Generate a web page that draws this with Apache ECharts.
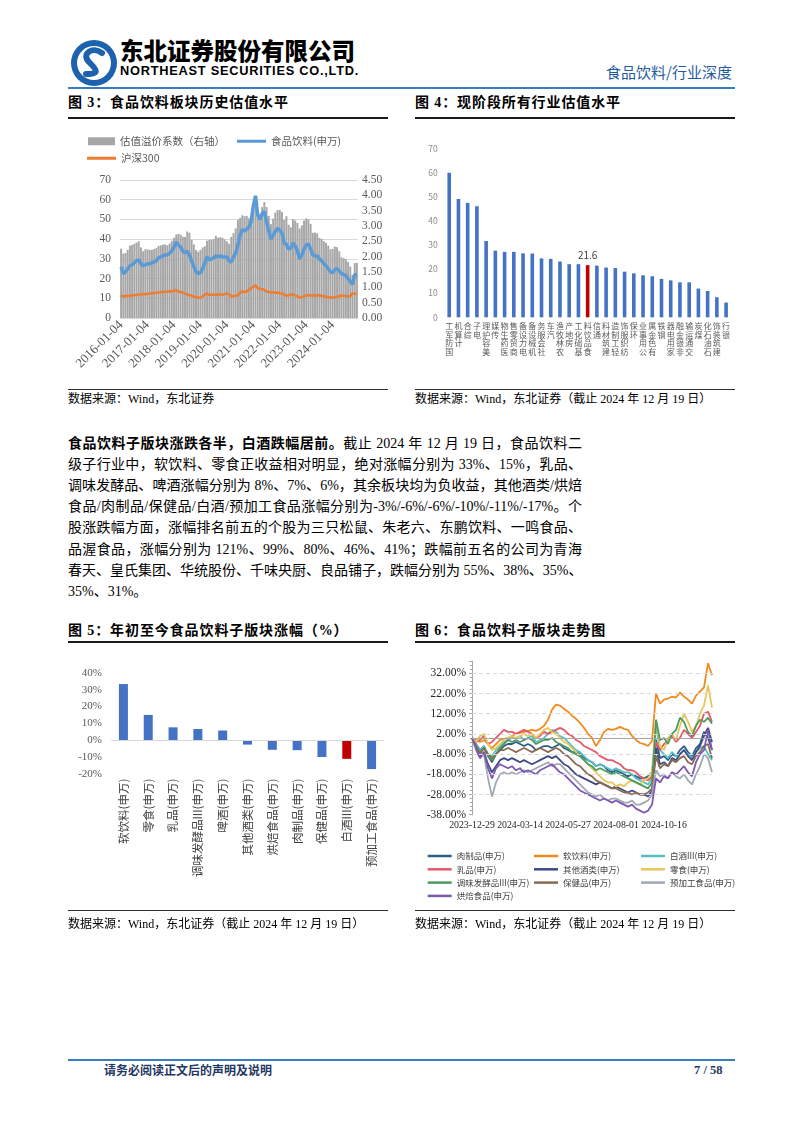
<!DOCTYPE html>
<html><head><meta charset="utf-8">
<script src="https://cdn.jsdelivr.net/npm/echarts@6/dist/echarts.min.js"></script>
<style>
body{margin:0;background:#fff;}
#page{position:relative;width:802px;height:1133px;overflow:hidden;background:#fff;color:#000;font-family:"Liberation Serif","Noto Sans CJK SC",serif;}
.a{position:absolute;}
.title{font-family:"Liberation Serif","Noto Sans CJK SC",serif;font-weight:bold;font-size:14px;line-height:20px;white-space:nowrap;letter-spacing:0.9px;}
.rule{height:1.5px;background:#1a1a1a;}
.thin{height:1px;background:#333;}
.src{font-size:12px;line-height:16px;white-space:nowrap;}
.p{font-size:14px;line-height:21.2px;height:21.2px;width:514px;text-align:justify;text-align-last:justify;white-space:nowrap;overflow:visible;}
.p.last{text-align-last:left;}
</style></head>
<body><div id="page">
<!-- header -->
<svg class="a" style="left:70px;top:39px" width="48" height="48" viewBox="0 0 48 48">
<circle cx="24" cy="24" r="23" fill="#1d62ae"/><circle cx="24" cy="24" r="17" fill="#fff"/>
<path d="M32 14 C 22 7, 11 15, 19 23 S 30 35, 16 35" stroke="#1d62ae" stroke-width="6" fill="none" stroke-linecap="round"/>
</svg>
<div class="a" style="left:120px;top:35px;font-family:'Noto Sans CJK SC',sans-serif;font-weight:900;font-size:23.5px;line-height:30px;white-space:nowrap;">东北证券股份有限公司</div>
<div class="a" style="left:120px;top:63px;font-family:'Liberation Sans','DejaVu Sans',sans-serif;font-weight:bold;font-size:12.8px;line-height:16px;white-space:nowrap;letter-spacing:0.75px;">NORTHEAST SECURITIES CO.,LTD.</div>
<div class="a" style="left:606px;top:62px;font-family:'Noto Sans CJK SC',sans-serif;font-size:15px;line-height:20px;color:#1f5c9e;white-space:nowrap;">食品饮料/行业深度</div>
<div class="a" style="left:68px;top:87px;width:667px;height:2px;background:#3a7cc0;"></div>

<!-- fig 3/4 titles -->
<div class="a title" style="left:68px;top:93px;">图 3：食品饮料板块历史估值水平</div>
<div class="a rule" style="left:68px;top:117px;width:320px;"></div>
<div class="a title" style="left:415px;top:93px;">图 4：现阶段所有行业估值水平</div>
<div class="a rule" style="left:415px;top:117px;width:320px;"></div>

<div id="c3" class="a" style="left:68px;top:122px;width:322px;height:265px;"></div>
<div id="c4" class="a" style="left:415px;top:122px;width:318px;height:265px;overflow:hidden;"></div>

<div class="a thin" style="left:68px;top:389px;width:320px;"></div>
<div class="a thin" style="left:415px;top:389px;width:320px;"></div>
<div class="a src" style="left:68px;top:391px;">数据来源：Wind，东北证券</div>
<div class="a src" style="left:415px;top:391px;">数据来源：Wind，东北证券（截止 2024 年 12 月 19 日）</div>

<!-- paragraph -->
<div class="a" style="left:68px;top:432.7px;">
<div class="p"><b>食品饮料子版块涨跌各半，白酒跌幅居前。</b>截止 2024 年 12 月 19 日，食品饮料二</div>
<div class="p">级子行业中，软饮料、零食正收益相对明显，绝对涨幅分别为 33%、15%，乳品、</div>
<div class="p">调味发酵品、啤酒涨幅分别为 8%、7%、6%，其余板块均为负收益，其他酒类/烘焙</div>
<div class="p">食品/肉制品/保健品/白酒/预加工食品涨幅分别为-3%/-6%/-6%/-10%/-11%/-17%。个</div>
<div class="p">股涨跌幅方面，涨幅排名前五的个股为三只松鼠、朱老六、东鹏饮料、一鸣食品、</div>
<div class="p">品渥食品，涨幅分别为 121%、99%、80%、46%、41%；跌幅前五名的公司为青海</div>
<div class="p">春天、皇氏集团、华统股份、千味央厨、良品铺子，跌幅分别为 55%、38%、35%、</div>
<div class="p last">35%、31%。</div>
</div>

<!-- fig 5/6 titles -->
<div class="a title" style="left:68px;top:621px;">图 5：年初至今食品饮料子版块涨幅（%）</div>
<div class="a rule" style="left:68px;top:641px;width:320px;"></div>
<div class="a title" style="left:415px;top:621px;">图 6：食品饮料子版块走势图</div>
<div class="a rule" style="left:415px;top:641px;width:320px;"></div>

<div id="c5" class="a" style="left:68px;top:645px;width:322px;height:235px;overflow:hidden;"></div>
<div id="c6" class="a" style="left:415px;top:645px;width:322px;height:285px;"></div>

<div class="a thin" style="left:68px;top:910px;width:320px;"></div>
<div class="a thin" style="left:415px;top:910px;width:320px;"></div>
<div class="a src" style="left:68px;top:916px;">数据来源：Wind，东北证券（截止 2024 年 12 月 19 日）</div>
<div class="a src" style="left:415px;top:916px;">数据来源：Wind，东北证券（截止 2024 年 12 月 19 日）</div>

<!-- footer -->
<div class="a" style="left:68px;top:1059px;width:667px;height:1.5px;background:#3a7cc0;"></div>
<div class="a" style="left:104px;top:1062px;font-family:'Noto Sans CJK SC',sans-serif;font-weight:bold;font-size:12px;line-height:16px;color:#1f3864;white-space:nowrap;">请务必阅读正文后的声明及说明</div>
<div class="a" style="left:694px;top:1062px;font-family:'Liberation Serif',serif;font-weight:bold;font-size:12.5px;line-height:16px;color:#1f3864;white-space:nowrap;">7 / 58</div>
</div>

<script>
// ---------- Fig 3 data ----------
const months3 = [
"2016-01-04","2016-02-04","2016-03-04","2016-04-04","2016-05-04","2016-06-04","2016-07-04","2016-08-04","2016-09-04","2016-10-04","2016-11-04","2016-12-04",
"2017-01-04","2017-02-04","2017-03-04","2017-04-04","2017-05-04","2017-06-04","2017-07-04","2017-08-04","2017-09-04","2017-10-04","2017-11-04","2017-12-04",
"2018-01-04","2018-02-04","2018-03-04","2018-04-04","2018-05-04","2018-06-04","2018-07-04","2018-08-04","2018-09-04","2018-10-04","2018-11-04","2018-12-04",
"2019-01-04","2019-02-04","2019-03-04","2019-04-04","2019-05-04","2019-06-04","2019-07-04","2019-08-04","2019-09-04","2019-10-04","2019-11-04","2019-12-04",
"2020-01-04","2020-02-04","2020-03-04","2020-04-04","2020-05-04","2020-06-04","2020-07-04","2020-08-04","2020-09-04","2020-10-04","2020-11-04","2020-12-04",
"2021-01-04","2021-02-04","2021-03-04","2021-04-04","2021-05-04","2021-06-04","2021-07-04","2021-08-04","2021-09-04","2021-10-04","2021-11-04","2021-12-04",
"2022-01-04","2022-02-04","2022-03-04","2022-04-04","2022-05-04","2022-06-04","2022-07-04","2022-08-04","2022-09-04","2022-10-04","2022-11-04","2022-12-04",
"2023-01-04","2023-02-04","2023-03-04","2023-04-04","2023-05-04","2023-06-04","2023-07-04","2023-08-04","2023-09-04","2023-10-04","2023-11-04","2023-12-04",
"2024-01-04","2024-02-04","2024-03-04","2024-04-04","2024-05-04","2024-06-04","2024-07-04","2024-08-04","2024-09-04","2024-10-04","2024-11-04","2024-12-04"];
const foodPE = [
26,22.5,23.5,25,26.5,27,28,29,29.5,27.5,26.5,27,
27.5,27.5,28,28.5,29,30.5,31,31.5,32,32,33,34,
36,38.5,37,36,34,33,34,32,29,26,23.5,22.5,
23,25,28,31,29.5,30,30.5,31.5,31,31.5,31,31,
31,29,28.5,31,33,37,42,45,44,45,46,49,
57,62,52,50,53,54,49,44,40,42,44,45.5,
44.5,43,38,37.5,35,35.5,38,36.5,34,30,32,35,
37,37.5,35,32,31.5,31.5,30,29,27.5,26.5,25,23.5,
23,24.5,25,24,22.5,22,21.5,20,18.5,17,22,22];
const hs300PE = [
11.5,10.8,11.2,11.3,11.2,11.4,11.6,11.8,11.7,12.0,12.2,12.1,
12.3,12.4,12.6,12.7,12.8,13.0,13.1,13.2,13.3,13.5,13.6,13.4,
13.8,14.2,13.5,13.2,12.9,12.5,12.0,11.5,11.4,10.8,10.6,10.4,
10.3,10.9,12.0,12.3,11.6,11.8,11.9,11.7,11.9,12.0,11.8,12.1,
12.4,12.0,10.8,11.2,11.3,11.5,12.9,13.4,13.2,13.5,14.2,15.2,
15.8,16.6,15.1,14.8,14.6,14.3,13.5,13.2,13.1,13.0,12.8,12.9,
12.6,12.4,11.9,11.3,11.5,12.0,11.8,11.5,11.0,10.3,10.6,11.0,
11.4,11.6,11.4,11.5,11.3,11.4,11.5,11.2,11.0,10.8,10.6,10.5,
10.2,10.5,10.8,11.0,11.4,11.3,11.2,10.9,11.0,12.5,12.3,12.2];
const premium = [
2.26,2.10,2.12,2.22,2.36,2.38,2.42,2.46,2.50,2.30,2.18,2.24,
2.24,2.22,2.22,2.25,2.28,2.35,2.37,2.39,2.40,2.37,2.43,2.52,
2.62,2.72,2.74,2.72,2.65,2.64,2.82,2.78,2.55,2.40,2.22,2.16,
2.22,2.30,2.34,2.52,2.54,2.55,2.57,2.68,2.62,2.63,2.62,2.56,
2.50,2.42,2.64,2.77,2.92,3.20,3.26,3.35,3.32,3.33,3.25,3.22,
3.60,3.74,3.44,3.38,3.62,3.78,3.62,3.33,3.06,3.24,3.44,3.52,
3.52,3.46,3.20,3.32,3.04,2.96,3.22,3.18,3.10,2.92,3.02,3.18,
3.25,3.22,3.07,2.78,2.79,2.76,2.61,2.58,2.50,2.45,2.36,2.24,
2.25,2.33,2.31,2.18,1.98,1.95,1.92,1.83,1.68,1.40,1.79,1.80];

// ---------- Fig 4 data ----------
const industries = ["国防军工","计算机","综合","电子","美容护理","传媒","医药生物","商贸零售","电力设备","机械设备","社会服务","汽车","农林牧渔","房地产","基础化工","食品饮料","通信","建筑材料","轻工制造","纺织服饰","环保","公用事业","有色金属","钢铁","家用电器","非银金融","交通运输","煤炭","石油石化","建筑装饰","银行"];
const industryPE = [59.9,49.0,47.4,46.0,31.6,27.6,27.1,27.1,26.5,26.4,24.4,24.2,23.1,22.0,22.0,21.6,21.4,20.6,20.4,18.9,18.2,17.4,17.0,15.9,15.3,14.5,14.5,11.9,10.9,8.3,6.1];
const highlightIndustry = "食品饮料";

// ---------- Fig 5 data ----------
const subSectors = ["软饮料(申万)","零食(申万)","乳品(申万)","调味发酵品III(申万)","啤酒(申万)","其他酒类(申万)","烘焙食品(申万)","肉制品(申万)","保健品(申万)","白酒III(申万)","预加工食品(申万)"];
const ytdReturn = [33.4,15.0,7.6,6.6,5.7,-2.7,-5.8,-6.0,-10.1,-11.2,-17.3];
const highlightSector = "白酒III(申万)";

// ---------- Fig 6 data ----------
const dates6 = ["2023-12-29","2024-01-05","2024-01-11","2024-01-17","2024-01-23","2024-01-29","2024-02-02","2024-02-08","2024-02-23","2024-02-29","2024-03-04","2024-03-08",
"2024-03-14","2024-03-20","2024-03-26","2024-04-01","2024-04-08","2024-04-12","2024-04-18","2024-04-24","2024-04-30","2024-05-10","2024-05-16","2024-05-22",
"2024-05-27","2024-05-31","2024-06-06","2024-06-13","2024-06-19","2024-06-25","2024-07-01","2024-07-05","2024-07-11","2024-07-17","2024-07-23","2024-07-29",
"2024-08-01","2024-08-07","2024-08-13","2024-08-19","2024-08-23","2024-08-29","2024-09-04","2024-09-10","2024-09-19","2024-09-25","2024-09-30","2024-10-11",
"2024-10-16","2024-10-22","2024-10-28","2024-11-01","2024-11-07","2024-11-13","2024-11-19","2024-11-25","2024-11-29","2024-12-05","2024-12-11","2024-12-16","2024-12-19"];
const dateLabels6 = ["2023-12-29","2024-03-14","2024-05-27","2024-08-01","2024-10-16"];
const meatS = [0,-3,-6,-4,-9,-12,-8,-6,-4,-3,-3,-2,-3,-4,-3,-4,-6,-5,-4,-4,-5,-4,-3,-5,-6,-7,-7,-8,-10,-11,-12,-14,-13,-14,-16,-17,-16,-17,-18,-19,-18,-19,-20,-20,-19,-17,-1,-10,-9,-11,-8,-9,-6,-4,-7,-9,-5,-3,3,0,-6];
const softDrinkS = [0,-1,-2,-1,-3,-5,-3,-1,-0.5,0,1,2,2.5,3,3.5,4,3.5,4.5,6,9,14,16.5,16,14.5,13,11,9.5,7.5,5,2,0,-4,-1,3,4.5,4,4.5,5.5,4.5,4,1,-1,-2.5,-3,-4,-1.5,22,17,19,19.5,20.5,20,22.5,20.5,19,17,21,23,25,37,31];
const baijiuS = [0,-3,-6,-4,-8,-9,-6,-4,-2,-1,0,0,1,-1,0,1,-2,-1,0,2,4,3,1,0,-2,-4,-6,-7,-9,-11,-12,-14,-13,-14,-15,-16,-15,-16,-17,-17,-18,-20,-21,-22,-23,-20,6,-6,-8,-10,-7,-9,-8,-6,-8,-10,-7,-5,-4,-8,-11];
const dairyS = [0,-2,-1,1,-3,-2,0,2,4,3,3,2,3,4,3,2,0,1,3,2,3,4,5,4,2,1,-1,-2,-4,-5,-6,-7,-9,-10,-11,-11,-12,-13,-15,-16,-16,-17,-19,-20,-21,-19,-2,-6,-3,-1,1,-2,0,4,2,0,3,6,12,13,8];
const otherLiquorS = [0,-5,-9,-7,-13,-17,-14,-11,-10,-11,-10,-11,-12,-11,-12,-13,-12,-11,-10,-9,-10,-9,-11,-13,-14,-16,-18,-19,-20,-21,-22,-23,-22,-23,-24,-25,-24,-25,-26,-27,-26,-27,-28,-28,-29,-26,-5,-13,-12,-14,-10,-11,-8,-6,-9,-11,-7,-4,1,5,-2];
const snackS = [0,-2,1,2,-3,-6,-5,-3,-1,0,1,0,1,2,1,2,0,2,4,5,3,2,0,-2,-3,-5,-7,-9,-11,-13,-15,-17,-19,-21,-22,-22,-24,-23,-24,-22,-21,-22,-23,-21,-20,-17,9,-4,-6,0,2,-1,6,12,8,3,6,12,16,26,15];
const seasoningS = [0,-4,-7,-5,-9,-11,-8,-5,-3,-1,-2,-1,-2,-1,0,-1,-3,-2,-1,-1,0,-2,-3,-4,-5,-7,-8,-9,-11,-13,-14,-16,-15,-16,-17,-18,-17,-18,-19,-20,-21,-22,-23,-24,-25,-22,9,-1,0,-3,2,4,10,8,3,1,6,9,8,10,7];
const healthS = [0,-4,-8,-5,-8,-10,-8,-6,-6,-5,-6,-7,-6,-5,-6,-7,-6,-5,-6,-7,-6,-5,-6,-8,-9,-11,-13,-14,-16,-18,-19,-21,-22,-23,-24,-25,-25,-26,-27,-27,-28,-27,-28,-28,-27,-25,-9,-15,-13,-14,-11,-12,-10,-9,-12,-13,-9,-7,-4,-3,-10];
const preparedS = [0,-6,-10,-8,-20,-29,-22,-18,-17,-18,-17,-18,-17,-16,-17,-16,-15,-14,-13,-12,-14,-13,-13,-15,-17,-19,-21,-23,-25,-27,-28,-29,-28,-30,-31,-30,-30,-31,-32,-32,-31,-33,-33,-32,-31,-28,-16,-19,-18,-20,-17,-19,-20,-18,-21,-23,-18,-14,-8,-10,-17];
const bakeryS = [0,-5,-10,-7,-15,-20,-15,-13,-14,-15,-14,-16,-15,-17,-16,-17,-18,-16,-15,-14,-13,-15,-17,-18,-20,-22,-24,-26,-27,-28,-29,-30,-31,-30,-31,-32,-31,-32,-33,-34,-33,-35,-36,-37,-36,-33,-20,-22,-19,-20,-17,-18,-16,-14,-17,-19,-12,-8,-6,4,-6];
const gridTicks6 = [32,22,12,2,-8,-18,-28];

// ---------- fonts ----------
const SERIF = '"Liberation Serif","Times New Roman","Noto Sans CJK SC",serif';
const SANS = '"Noto Sans CJK SC","Liberation Sans",sans-serif';

// ---------- Fig 3 ----------
const c3 = echarts.init(document.getElementById('c3'), null, {renderer:'canvas'});
const legTxt3 = {fontSize:10.5, color:'#595959', fontFamily:SANS};
c3.setOption({
  animation:false,
  legend:[
    {data:['估值溢价系数（右轴）'], left:20, top:14, padding:0, icon:'rect', itemWidth:27, itemHeight:8, textStyle:legTxt3},
    {data:['食品饮料(申万)'], left:169, top:14, padding:0, icon:'rect', itemWidth:29, itemHeight:3, textStyle:legTxt3},
    {data:['沪深300'], left:19, top:31, padding:0, icon:'rect', itemWidth:29, itemHeight:3, textStyle:legTxt3}
  ],
  grid:{left:52, top:58, width:238, height:138},
  xAxis:{type:'category', data:months3, boundaryGap:true,
    axisLine:{show:true, lineStyle:{color:'#D9D9D9'}}, axisTick:{show:false},
    axisLabel:{interval:11, rotate:45, fontFamily:SERIF, fontSize:13, color:'#595959', margin:5}},
  yAxis:[
    {type:'value', min:0, max:70, interval:10, axisLine:{show:false}, axisTick:{show:false},
     axisLabel:{fontFamily:SERIF, fontSize:11.5, color:'#595959', margin:9},
     splitLine:{lineStyle:{color:'#D9D9D9', width:1}}},
    {type:'value', min:0, max:4.5, interval:0.5, position:'right', axisLine:{show:false}, axisTick:{show:false},
     axisLabel:{fontFamily:SERIF, fontSize:11.5, color:'#595959', margin:4, formatter:v=>v.toFixed(2)},
     splitLine:{show:false}}
  ],
  series:[
    {name:'估值溢价系数（右轴）', type:'bar', yAxisIndex:1, data:premium, barCategoryGap:'12%', itemStyle:{color:'#A6A6A6'}},
    {name:'食品饮料(申万)', type:'line', data:foodPE, symbol:'none', lineStyle:{width:3.5, color:'#5B9BD5'}, itemStyle:{color:'#5B9BD5'}},
    {name:'沪深300', type:'line', data:hs300PE, symbol:'none', lineStyle:{width:2.5, color:'#ED7D31'}, itemStyle:{color:'#ED7D31'}}
  ]
});

// ---------- Fig 4 ----------
const c4 = echarts.init(document.getElementById('c4'), null, {renderer:'canvas'});
c4.setOption({
  animation:false,
  grid:{left:29.6, top:26.3, width:291.8, height:169},
  xAxis:{type:'category', data:industries, axisLine:{show:false}, axisTick:{show:false},
    axisLabel:{interval:0, fontFamily:SANS, fontSize:8, lineHeight:8.8, color:'#595959', margin:4, verticalAlign:'top',
      formatter:v=>v.split('').reverse().join('\n')}},
  yAxis:{type:'value', min:0, max:70, interval:10, axisLine:{show:false}, axisTick:{show:false}, splitLine:{show:false},
    axisLabel:{fontFamily:SANS, fontSize:8.5, color:'#8C8C8C', margin:7}},
  series:[{type:'bar', barWidth:3.6,
    data:industryPE.map((v,i)=> industries[i]===highlightIndustry
      ? {value:v, itemStyle:{color:'#C00000'}, label:{show:true, position:'top', distance:5, fontFamily:SANS, fontSize:10, color:'#404040'}}
      : {value:v, itemStyle:{color:'#4472C4'}})}]
});

// ---------- Fig 5 ----------
const c5 = echarts.init(document.getElementById('c5'), null, {renderer:'canvas'});
c5.setOption({
  animation:false,
  grid:{left:43, top:28, width:273, height:113.7},
  xAxis:{type:'category', data:subSectors, axisLine:{show:false}, axisTick:{show:false},
    axisLabel:{interval:0, rotate:90, fontFamily:SANS, fontSize:11.5, color:'#404040', margin:5}},
  yAxis:{type:'value', min:-20, max:40, interval:10, axisLine:{show:false}, axisTick:{show:false}, splitLine:{show:false},
    axisLabel:{fontFamily:SERIF, fontSize:11, color:'#595959', margin:9, formatter:v=>v+'%'}},
  series:[{type:'bar', barWidth:9,
    data:ytdReturn.map((v,i)=> ({value:v, itemStyle:{color: subSectors[i]===highlightSector ? '#C00000' : '#4472C4'}})),
    markLine:{silent:true, symbol:'none', label:{show:false}, lineStyle:{color:'#D9D9D9', width:1, type:'solid'}, data:[{yAxis:0}]}
  }]
});

// ---------- Fig 6 ----------
const c6 = echarts.init(document.getElementById('c6'), null, {renderer:'canvas'});
const sectorNames6 = ['肉制品(申万)','软饮料(申万)','白酒III(申万)','乳品(申万)','其他酒类(申万)','零食(申万)','调味发酵品III(申万)','保健品(申万)','预加工食品(申万)','烘焙食品(申万)'];
const sectorData6 = [meatS, softDrinkS, baijiuS, dairyS, otherLiquorS, snackS, seasoningS, healthS, preparedS, bakeryS];
const colors6 = ['#2E5C8A','#F28A1E','#55BFC4','#E3596A','#3F4A85','#E8C75A','#4C9A5F','#8A6A52','#A0A8B3','#7D58B3'];
const legTxt6 = {fontSize:8.5, lineHeight:12, color:'#404040', fontFamily:SANS};
const legBase = {orient:'vertical', top:205, padding:0, itemGap:1.3, itemWidth:24, itemHeight:2.5, icon:'rect', textStyle:legTxt6};
const series6 = sectorNames6.map((n,i)=>({
  name:n, type:'line', data:sectorData6[i], symbol:'none',
  lineStyle:{width:1.8, color:colors6[i]}, itemStyle:{color:colors6[i]}
}));
series6[0].markLine = {silent:true, symbol:'none', label:{show:false}, data:[
  ...gridTicks6.map(v=>({yAxis:v, lineStyle:{color:'#D9D9D9', width:1, type:[4,3]}})),
  {yAxis:0, lineStyle:{color:'#A6A6A6', width:1, type:'solid'}}
]};
c6.setOption({
  animation:false,
  legend:[
    Object.assign({}, legBase, {left:12.7, data:['肉制品(申万)','乳品(申万)','调味发酵品III(申万)','烘焙食品(申万)']}),
    Object.assign({}, legBase, {left:119, data:['软饮料(申万)','其他酒类(申万)','保健品(申万)']}),
    Object.assign({}, legBase, {left:226, data:['白酒III(申万)','零食(申万)','预加工食品(申万)']})
  ],
  grid:{left:57, top:16.2, width:240, height:153.5},
  xAxis:{type:'category', data:dates6, boundaryGap:false, axisLine:{show:false}, axisTick:{show:false},
    axisLabel:{interval:(i,v)=>dateLabels6.indexOf(v)>=0, fontFamily:SERIF, fontSize:9.8, color:'#262626', margin:6}},
  yAxis:{type:'value', min:-38, max:38, interval:10,
    axisLine:{show:true, lineStyle:{color:'#A6A6A6'}},
    axisTick:{show:true, length:3, lineStyle:{color:'#A6A6A6'}},
    minorTick:{show:true, splitNumber:5, length:2, lineStyle:{color:'#A6A6A6'}},
    splitLine:{show:false},
    axisLabel:{showMaxLabel:false, fontFamily:SERIF, fontSize:11.5, color:'#262626', margin:6, formatter:v=>v.toFixed(2)+'%'}},
  series:series6
});
</script>
</body></html>
